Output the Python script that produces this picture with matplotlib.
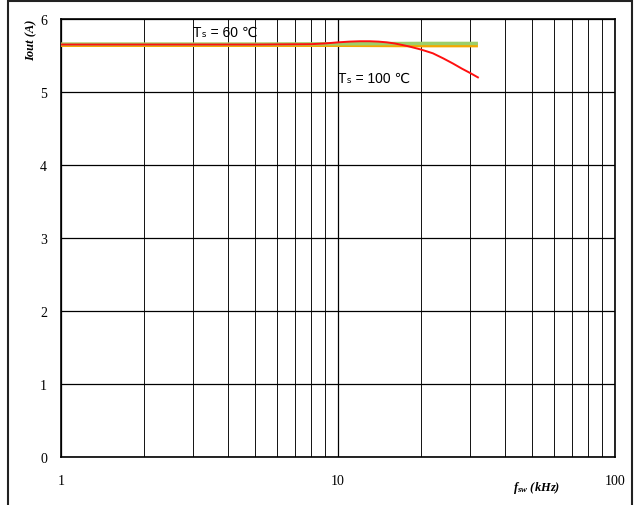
import numpy as np
import matplotlib.pyplot as plt
from matplotlib.patches import Rectangle

plt.rcParams["mathtext.fontset"] = "custom"
plt.rcParams["mathtext.rm"] = "Liberation Sans"
plt.rcParams["mathtext.it"] = "Liberation Serif:italic:bold"

# switching frequency (kHz) and output current (A)
f_60 = [1, 2, 5, 10, 20, 32]
i_60_green = [5.655, 5.655, 5.655, 5.66, 5.665, 5.665]
i_60_orange = [5.645, 5.645, 5.645, 5.645, 5.64, 5.64]

f_100 = [1, 2, 5, 8, 9, 10, 11, 12, 13, 14, 15, 16, 17, 18, 20, 22, 24, 26, 28, 30, 32]
i_100 = [5.65, 5.65, 5.65, 5.655, 5.665, 5.68, 5.69, 5.695, 5.695, 5.69, 5.68, 5.665,
         5.645, 5.625, 5.58, 5.53, 5.46, 5.39, 5.32, 5.26, 5.2]

yticks = [0, 1, 2, 3, 4, 5, 6]
xticks = [1, 10, 100]

fig = plt.figure(figsize=(6.35, 5.06), dpi=100)
ax = fig.add_axes([0.096, 0.095, 0.8725, 0.8655])

ax.plot(f_60, i_60_orange, color="#f5a800", lw=3, solid_capstyle="butt", zorder=3)
ax.plot(f_60, i_60_green, color="#9ccf6a", lw=2.5, solid_capstyle="butt", zorder=3)
ax.plot(f_100, i_100, color="#ff1010", lw=1.4, zorder=4)

ax.set_xscale("log")
ax.set_xlim(1, 100)
ax.set_ylim(0, 6)
ax.set_xticks(xticks)
ax.set_xticklabels([str(t) for t in xticks])
ax.set_yticks(yticks)
ax.xaxis.set_minor_formatter(plt.NullFormatter())
ax.tick_params(which="both", length=0, labelsize=10)
ax.tick_params(axis="x", pad=12)
ax.tick_params(axis="y", pad=10)
for lab in ax.get_xticklabels() + ax.get_yticklabels():
    lab.set_fontfamily("Liberation Serif")

ax.grid(True, which="major", color="black", lw=0.9)
ax.grid(True, which="minor", color="#111111", lw=0.7)
ax.set_axisbelow(True)
for s in ax.spines.values():
    s.set_linewidth(1.2)

lbl_font = ["Liberation Sans", "DejaVu Sans"]
ax.text(3, 5.83, "T\u209b = 60 \u2103", fontsize=10, family=lbl_font,
        ha="left", va="center")
ax.text(10, 5.2, "T\u209b = 100 \u2103", fontsize=10, family=lbl_font,
        ha="left", va="center")

fig.text(0.05, 0.92, "Iout (A)", rotation=90, ha="center", va="center", fontsize=9,
         family="Liberation Serif", style="italic", weight="bold")
fig.text(0.845, 0.035, "f$_{sw}$ (kHz)", ha="center", va="center", fontsize=9,
         family="Liberation Serif", style="italic", weight="bold")

fig.patches.append(Rectangle((0.012, -0.1), 0.983, 1.096, transform=fig.transFigure,
                             fill=False, ec="#222222", lw=1.5))

fig.savefig("out.png", dpi=100)
